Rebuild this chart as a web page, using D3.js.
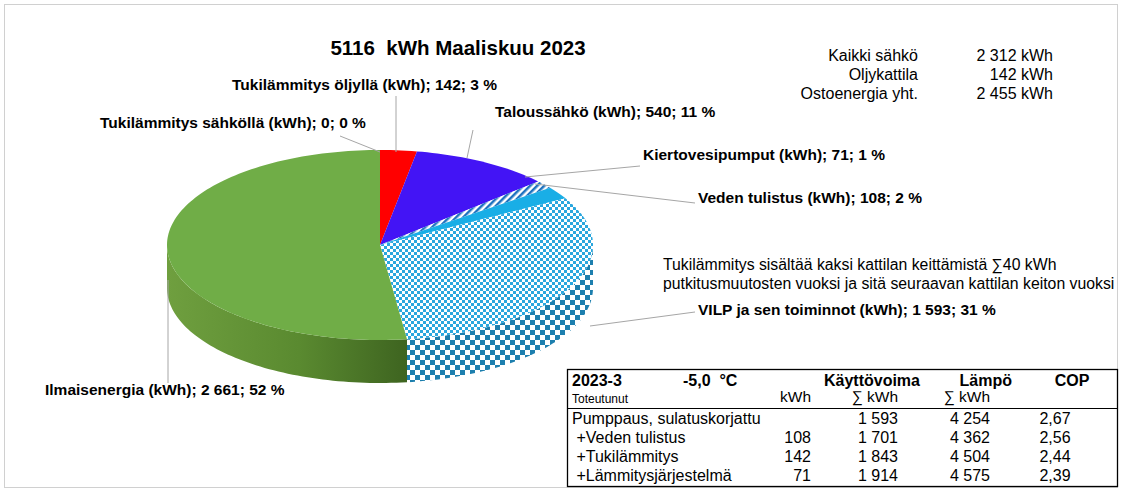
<!DOCTYPE html>
<html><head><meta charset="utf-8">
<script src="https://cdn.jsdelivr.net/npm/d3@7"></script>
<style>body{margin:0;background:#fff;font-family:"Liberation Sans",Arial,sans-serif}</style>
</head><body><div id="chart"></div>
<script>
// ===== Data =====
const sliceNames = ["Tukilämmitys öljyllä", "Taloussähkö", "Kiertovesipumput", "Veden tulistus",
  "VILP ja sen toiminnot", "Ilmaisenergia", "Tukilämmitys sähköllä"];
const sliceValues = [142, 540, 71, 108, 1593, 2661, 0];
const sliceLabels = ["Tukilämmitys öljyllä (kWh); 142; 3 %", "Taloussähkö (kWh); 540; 11 %",
  "Kiertovesipumput (kWh); 71; 1 %", "Veden tulistus (kWh); 108; 2 %",
  "VILP ja sen toiminnot (kWh); 1 593; 31 %", "Ilmaisenergia (kWh); 2 661; 52 %",
  "Tukilämmitys sähköllä (kWh); 0; 0 %"];
const summaryNames = ["Kaikki sähkö", "Oljykattila", "Ostoenergia yht."];
const summaryValues = ["2 312 kWh", "142 kWh", "2 455 kWh"];
const tableRows = [
  ["Pumppaus, sulatuskorjattu", "", "1 593", "4 254", "2,67"],
  [" +Veden tulistus", "108", "1 701", "4 362", "2,56"],
  [" +Tukilämmitys", "142", "1 843", "4 504", "2,44"],
  [" +Lämmitysjärjestelmä", "71", "1 914", "4 575", "2,39"]
];

// ===== Layout =====
const W = 1123, H = 492;
const cx = 380, cy = 245, rx = 213, ry = 95, depth = 43;

const svg = d3.select("#chart").append("svg").attr("width", W).attr("height", H);
svg.append("rect").attr("x", 4.5).attr("y", 4.5).attr("width", 1113).attr("height", 483)
  .attr("fill", "#fff").attr("stroke", "#d0d0d0");

// patterns / gradients
const defs = svg.append("defs");
function checker(id, c, s) {
  const p = defs.append("pattern").attr("id", id).attr("width", 2 * s).attr("height", 2 * s)
    .attr("patternUnits", "userSpaceOnUse");
  p.append("rect").attr("width", 2 * s).attr("height", 2 * s).attr("fill", "#fff");
  p.append("rect").attr("width", s).attr("height", s).attr("fill", c);
  p.append("rect").attr("x", s).attr("y", s).attr("width", s).attr("height", s).attr("fill", c);
}
checker("chkTop", "#2aa7de", 3);
checker("chkSide", "#1d7fae", 5);
const hatch = defs.append("pattern").attr("id", "hatch").attr("width", 5).attr("height", 5)
  .attr("patternUnits", "userSpaceOnUse").attr("patternTransform", "rotate(45)");
hatch.append("rect").attr("width", 5).attr("height", 5).attr("fill", "#fff");
hatch.append("rect").attr("width", 2.5).attr("height", 5).attr("fill", "#1f73c0");
const g1 = defs.append("linearGradient").attr("id", "greenSide");
g1.append("stop").attr("offset", "0%").attr("stop-color", "#6f9f3f");
g1.append("stop").attr("offset", "55%").attr("stop-color", "#5a8a30");
g1.append("stop").attr("offset", "100%").attr("stop-color", "#3e6420");

const topFill = ["#ff0000", "#4314f5", "url(#hatch)", "#19aee6", "url(#chkTop)", "#70ad47", "#a5a5a5"];
const sideFill = ["#b00000", "#2d0cb0", "url(#hatch)", "#1285b0", "url(#chkSide)", "url(#greenSide)", "#888"];

const pie = d3.pie().sort(null).value(d => d);
const arcs = pie(sliceValues);
const px = a => cx + rx * Math.sin(a);
const py = a => cy - ry * Math.cos(a);

function topPath(a0, a1) {
  let s = `M${cx},${cy}`;
  const n = Math.max(2, Math.ceil((a1 - a0) * 40));
  for (let i = 0; i <= n; i++) { const a = a0 + (a1 - a0) * i / n; s += `L${px(a)},${py(a)}`; }
  return s + "Z";
}
function sidePath(a0, a1) {
  const lo = Math.max(a0, Math.PI / 2), hi = Math.min(a1, 3 * Math.PI / 2);
  if (hi <= lo) return null;
  const n = Math.max(2, Math.ceil((hi - lo) * 40));
  let s = "", back = "";
  for (let i = 0; i <= n; i++) {
    const a = lo + (hi - lo) * i / n;
    s += (i ? "L" : "M") + `${px(a)},${py(a)}`;
  }
  for (let i = n; i >= 0; i--) {
    const a = lo + (hi - lo) * i / n;
    back += `L${px(a)},${py(a) + depth}`;
  }
  return s + back + "Z";
}

const pieG = svg.append("g");
arcs.forEach((d, i) => {
  const p = sidePath(d.startAngle, d.endAngle);
  if (p) pieG.append("path").attr("d", p).attr("fill", sideFill[i]);
});
arcs.forEach((d, i) => {
  if (d.endAngle - d.startAngle <= 0) return;
  pieG.append("path").attr("d", topPath(d.startAngle, d.endAngle)).attr("fill", topFill[i]);
});

// ===== Labels with leader lines =====
const labelPos = [
  { x: 232, y: 90, line: [[396, 96], [396, 152]] },
  { x: 495, y: 117, line: [[473, 130], [467, 158]] },
  { x: 643, y: 160, line: [[640, 166], [525, 177]] },
  { x: 698, y: 203, line: [[695, 203], [535, 184]] },
  { x: 698, y: 315, line: [[695, 312], [590, 326]] },
  { x: 45, y: 395, line: [[168, 383], [168, 280]] },
  { x: 100, y: 128, line: [[340, 136], [380, 152]] }
];
labelPos.forEach((l, i) => {
  svg.append("polyline").attr("points", l.line.map(p => p.join(",")).join(" "))
    .attr("fill", "none").attr("stroke", "#a6a6a6");
  svg.append("text").attr("x", l.x).attr("y", l.y)
    .attr("font-size", 15.5).attr("font-weight", "bold").attr("fill", "#000").text(sliceLabels[i]);
});

svg.append("text").attr("x", 458).attr("y", 55).attr("text-anchor", "middle").attr("xml:space", "preserve")
  .attr("font-size", 20.5).attr("font-weight", "bold").text("5116  kWh Maaliskuu 2023");

summaryNames.forEach((n, i) => {
  svg.append("text").attr("x", 918).attr("y", 61 + i * 19).attr("text-anchor", "end")
    .attr("font-size", 16).text(n);
  svg.append("text").attr("x", 1053).attr("y", 61 + i * 19).attr("text-anchor", "end")
    .attr("font-size", 16).text(summaryValues[i]);
});

svg.append("text").attr("x", 663).attr("y", 270).attr("font-size", 15.8)
  .text("Tukilämmitys sisältää kaksi kattilan keittämistä ∑40 kWh");
svg.append("text").attr("x", 663).attr("y", 289).attr("font-size", 15.8)
  .text("putkitusmuutosten vuoksi ja sitä seuraavan kattilan keiton vuoksi");

// ===== Table =====
const tb = svg.append("g");
tb.append("rect").attr("x", 567.5).attr("y", 369.5).attr("width", 550).attr("height", 117)
  .attr("fill", "#fff").attr("stroke", "#000").attr("stroke-width", 1.3);
tb.append("line").attr("x1", 567).attr("x2", 1117).attr("y1", 408.5).attr("y2", 408.5).attr("stroke", "#000");
const colX = [572, 811, 898, 990, 1055];
const hdr = [["2023-3", 572, "start"], ["-5,0  °C", 683, "start"], ["Käyttövoima", 920, "end"],
  ["Lämpö", 1012, "end"], ["COP", 1072, "middle"]];
hdr.forEach(h => tb.append("text").attr("x", h[1]).attr("y", 386).attr("text-anchor", h[2])
  .attr("xml:space", "preserve").attr("font-size", 16).attr("font-weight", "bold").text(h[0]));
tb.append("text").attr("x", 572).attr("y", 403).attr("font-size", 12).text("Toteutunut");
[["kWh", 811], ["∑ kWh", 898], ["∑ kWh", 990]].forEach(h =>
  tb.append("text").attr("x", h[1]).attr("y", 402).attr("text-anchor", "end").attr("font-size", 15.5).text(h[0]));
tableRows.forEach((r, i) => {
  const y = 424 + i * 19;
  r.forEach((c, j) => {
    tb.append("text").attr("x", colX[j]).attr("y", y)
      .attr("text-anchor", j === 0 ? "start" : (j === 4 ? "middle" : "end"))
      .attr("font-size", 16).attr("xml:space", "preserve").text(c);
  });
});
</script></body></html>
